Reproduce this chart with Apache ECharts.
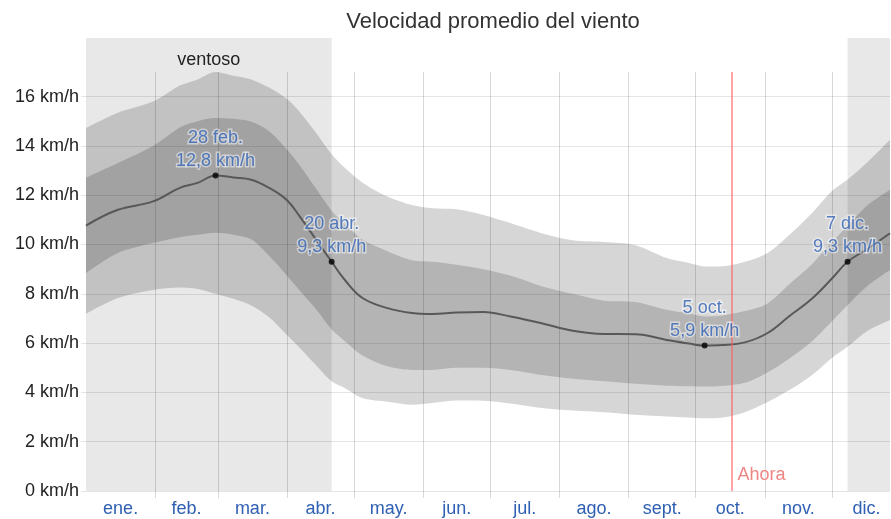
<!DOCTYPE html>
<html>
<head>
<meta charset="utf-8">
<script src="https://cdn.jsdelivr.net/npm/echarts@6/dist/echarts.min.js"></script>
<style>
  html, body { margin: 0; padding: 0; background: #fff; }
  #chart { width: 891px; height: 519px; }
</style>
</head>
<body>
<div id="chart"></div>
<script>
// day of year (1 ene = 0)
const days = [0, 14, 30, 42, 50, 58, 66, 74, 82, 90, 96, 103, 110, 116, 124, 135, 146, 155, 166, 178, 190, 204, 218, 232, 246, 260, 270, 277, 285, 295, 305, 315, 325, 334, 341, 350, 360];
const mean = [10.77, 11.4, 11.75, 12.3, 12.5, 12.8, 12.72, 12.63, 12.3, 11.8, 11.1, 10.2, 9.3, 8.55, 7.82, 7.42, 7.22, 7.18, 7.24, 7.26, 7.08, 6.81, 6.5, 6.37, 6.36, 6.13, 5.98, 5.9, 5.92, 6.03, 6.4, 7.1, 7.8, 8.62, 9.3, 9.83, 10.46];
const p90 = [14.73, 15.34, 15.8, 16.45, 16.7, 17.0, 16.85, 16.7, 16.37, 15.9, 15.34, 14.54, 13.66, 13.1, 12.5, 11.95, 11.6, 11.47, 11.43, 11.2, 10.87, 10.46, 10.17, 10.1, 9.97, 9.45, 9.25, 9.11, 9.12, 9.3, 9.65, 10.4, 11.27, 12.17, 12.64, 13.35, 14.25];
const p75 = [12.71, 13.3, 14.0, 14.75, 15.0, 15.13, 15.1, 14.98, 14.6, 13.86, 13.18, 12.27, 11.37, 10.82, 10.19, 9.73, 9.36, 9.3, 9.18, 9.0, 8.74, 8.31, 8.0, 7.72, 7.67, 7.35, 7.2, 7.08, 7.12, 7.3, 7.6, 8.4, 9.2, 10.1, 10.75, 11.6, 12.22];
const p25 = [8.84, 9.65, 10.06, 10.3, 10.4, 10.48, 10.4, 10.21, 9.54, 8.73, 8.1, 7.37, 6.55, 6.07, 5.49, 5.06, 4.91, 4.91, 5.0, 5.0, 4.91, 4.71, 4.55, 4.45, 4.35, 4.27, 4.25, 4.24, 4.26, 4.39, 4.8, 5.38, 6.07, 6.89, 7.54, 8.33, 8.97];
const p10 = [7.19, 7.82, 8.16, 8.26, 8.2, 8.0, 7.8, 7.53, 7.05, 6.33, 5.78, 5.1, 4.45, 4.17, 3.76, 3.62, 3.5, 3.57, 3.67, 3.66, 3.55, 3.37, 3.27, 3.2, 3.09, 3.02, 2.98, 2.95, 2.98, 3.2, 3.6, 4.1, 4.7, 5.4, 5.85, 6.5, 6.94];

const monthNames = ["ene.", "feb.", "mar.", "abr.", "may.", "jun.", "jul.", "ago.", "sept.", "oct.", "nov.", "dic."];
const monthStarts = [31, 59, 90, 120, 151, 181, 212, 243, 273, 304, 334];
const monthMids = [15.5, 45, 74.5, 105, 135.5, 166, 196.5, 227.5, 258, 288.5, 319, 349.5];
const yTicks = [0, 2, 4, 6, 8, 10, 12, 14, 16];

const keyDays = [58, 110, 277, 341];
const keyVals = [12.8, 9.3, 5.9, 9.3];
const keyDates = ["28 feb.", "20 abr.", "5 oct.", "7 dic."];

const windyRanges = [[0, 110], [341, 365]];
const nowDay = 289;
const lastDay = 360;

const pairs = (vals) => days.map((d, i) => [d, vals[i]]);
// stacked series keep the value first (encode swaps it back) so the stack runs on y
const stackPairs = (vals) => days.map((d, i) => [vals[i], d]);
const diff = (hi, lo) => hi.map((v, i) => +(v - lo[i]).toFixed(3));
const fmt = (v) => v.toFixed(1).replace(".", ",") + " km/h";

const chart = echarts.init(document.getElementById("chart"));
const font = "Liberation Sans, Arial, sans-serif";
const blue = "#2f60b3";
const band = "rgba(0,0,0,0.16)";

const bandSeries = (name, stack, vals, filled) => ({
  name, type: "line", xAxisIndex: 1, yAxisIndex: 1, stack,
  data: stackPairs(vals), encode: { x: 1, y: 0 },
  symbol: "none", smooth: 0.3, lineStyle: { width: 0 },
  areaStyle: filled ? { color: band, opacity: 1 } : undefined
});

chart.setOption({
  animation: false,
  textStyle: { fontFamily: font },
  graphic: [{
    type: "text",
    x: 493, y: 22,
    style: {
      text: "Velocidad promedio del viento",
      fontSize: 22, fontFamily: font, fill: "#333",
      align: "center", verticalAlign: "middle"
    }
  }],
  grid: [
    { left: 86, right: 1, top: 38, bottom: 28 },
    { left: 86, right: 1, top: 72, bottom: 28 }
  ],
  xAxis: [
    { gridIndex: 0, type: "value", min: 0, max: lastDay, show: false },
    {
      gridIndex: 1, type: "value", min: 0, max: lastDay,
      axisLine: { show: false },
      axisTick: { show: true, length: 7, customValues: monthStarts, lineStyle: { color: "rgba(0,0,0,0.15)" } },
      splitLine: { show: true, lineStyle: { color: "rgba(0,0,0,0.15)" } },
      axisLabel: {
        customValues: monthMids, margin: 9, fontSize: 18, color: blue,
        formatter: (v) => monthNames[monthMids.indexOf(v)]
      }
    }
  ],
  yAxis: [
    { gridIndex: 0, type: "value", min: 0, max: 1, show: false },
    {
      gridIndex: 1, type: "value", min: 0, max: 17,
      axisLine: { show: false },
      axisTick: { show: true, length: 5, customValues: yTicks, lineStyle: { color: "rgba(0,0,0,0.1)" } },
      splitLine: { show: true, lineStyle: { color: "rgba(0,0,0,0.1)" } },
      axisLabel: { customValues: yTicks, formatter: "{value} km/h", fontSize: 18, color: "#222", margin: 7 }
    }
  ],
  series: [
    {
      type: "line", xAxisIndex: 0, yAxisIndex: 0, z: -5,
      data: [[0, 0]], symbol: "none", lineStyle: { opacity: 0 },
      markArea: {
        z: -5, silent: true,
        itemStyle: { color: "#e8e8e8" },
        label: { show: false },
        data: windyRanges.map((r, i) => [
          { xAxis: r[0], name: i === 0 ? "ventoso" : "",
            label: { show: i === 0, position: "insideTop", distance: 13, color: "#222", fontSize: 18 } },
          { xAxis: r[1] }
        ])
      }
    },
    bandSeries("p10", "outer", p10, false),
    bandSeries("p10-p90", "outer", diff(p90, p10), true),
    bandSeries("p25", "inner", p25, false),
    bandSeries("p25-p75", "inner", diff(p75, p25), true),
    { name: "media", type: "line", xAxisIndex: 1, yAxisIndex: 1, data: pairs(mean),
      symbol: "none", smooth: 0.4, lineStyle: { width: 2, color: "#585858" } },
    {
      type: "line", xAxisIndex: 1, yAxisIndex: 1, data: [], symbol: "none",
      markLine: {
        silent: true, symbol: "none",
        lineStyle: { color: "rgba(255,90,90,0.55)", width: 2, type: "solid" },
        label: { show: false },
        data: [{ xAxis: nowDay }]
      },
      markPoint: {
        silent: true, symbol: "circle", symbolSize: 0,
        label: { show: true, formatter: "Ahora", position: [6, -25], color: "#f08585", fontSize: 18 },
        data: [{ coord: [nowDay, 0] }]
      }
    },
    {
      type: "scatter", xAxisIndex: 1, yAxisIndex: 1, z: 5,
      data: keyDays.map((d, i) => [d, keyVals[i]]),
      symbolSize: 6, itemStyle: { color: "#000" },
      label: {
        show: true, position: "top", distance: 0,
        formatter: (p) => keyDates[p.dataIndex] + "\n" + fmt(keyVals[p.dataIndex]),
        color: blue, fontSize: 18, lineHeight: 23, align: "center",
        textBorderColor: "rgba(255,255,255,0.6)", textBorderWidth: 3
      }
    }
  ]
});
</script>
</body>
</html>
